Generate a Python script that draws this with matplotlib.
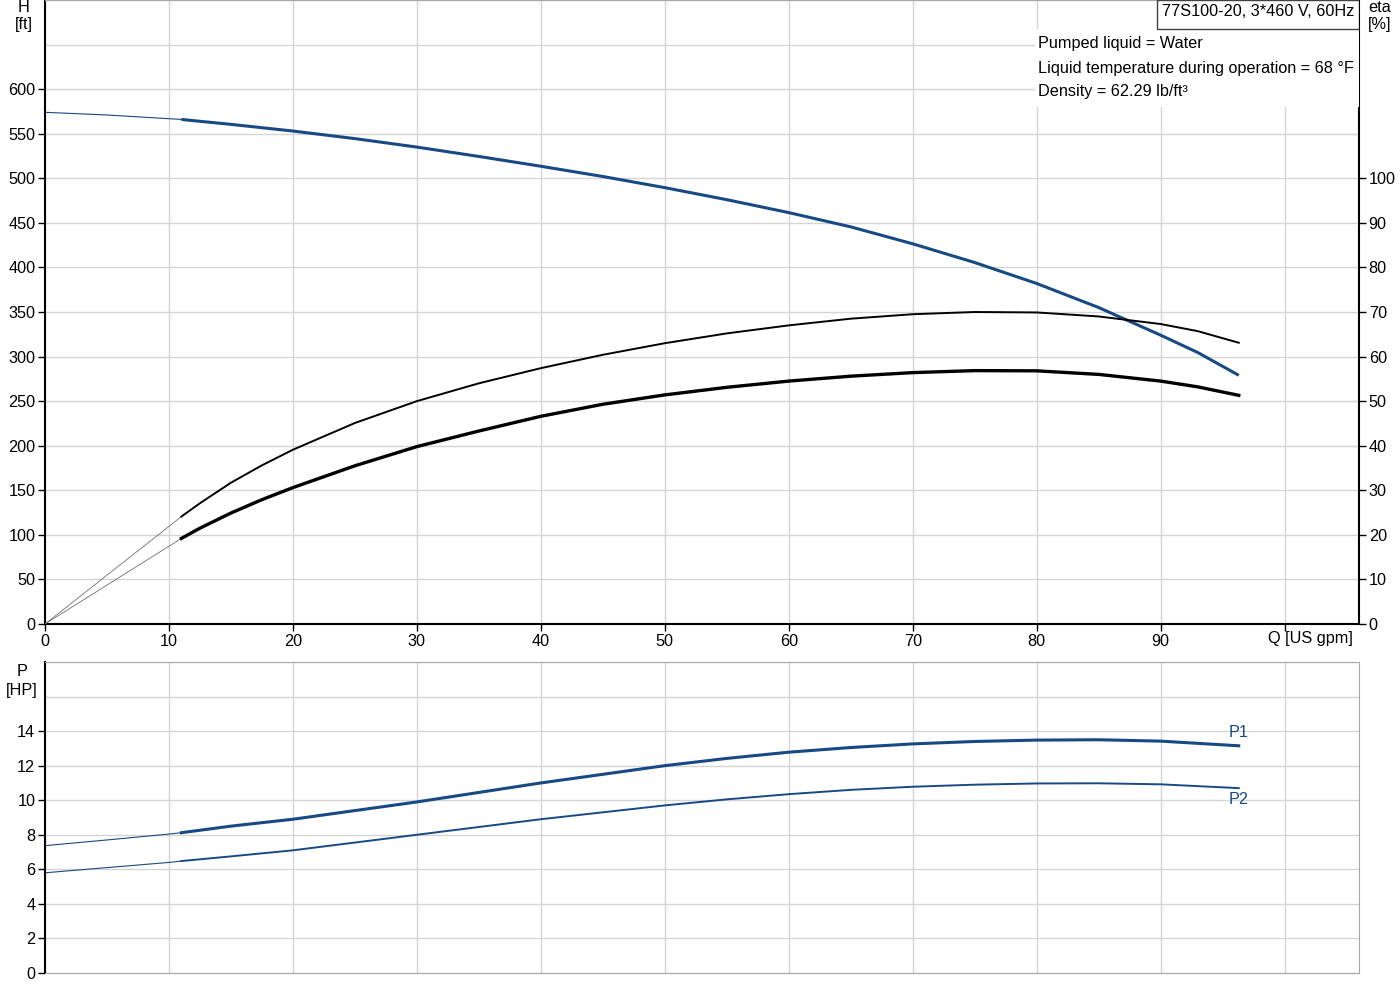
import matplotlib
matplotlib.use('Agg')
import matplotlib.pyplot as plt
from matplotlib.patches import Rectangle

plt.rcParams['font.family'] = ['Liberation Sans', 'DejaVu Sans']
plt.rcParams['font.size'] = 11.7
plt.rcParams['lines.solid_joinstyle'] = 'round'

# Q-H curve (thin part below min flow, thick part in operating range)
q_h_thin = [0, 5, 11]
h_thin = [574, 571, 566]
q_h = [11, 15, 20, 25, 30, 35, 40, 45, 50, 55, 60, 65, 70, 75, 80, 85, 90, 93, 96.3]
h = [566, 560.5, 553, 544.5, 535, 524.5, 513.5, 502, 489.5, 476, 461.5, 445.5, 426.5, 405.5,
     382, 355, 324, 304.5, 279]

# efficiency curves [%]
q_eta_thin = [0, 11]
eta_pump_thin = [0, 24.1]
eta_tot_thin = [0, 19.2]
q_eta = [11, 12.5, 15, 17.5, 20, 25, 30, 35, 40, 45, 50, 55, 60, 65, 70, 75, 80, 85, 90, 93, 96.3]
eta_pump = [24.1, 27.1, 31.7, 35.6, 39.1, 45.1, 50.0, 54.0, 57.4, 60.4, 63.0, 65.2, 67.0, 68.5,
            69.5, 70.0, 69.9, 69.0, 67.3, 65.7, 63.1]
eta_tot = [19.2, 21.5, 24.9, 27.9, 30.6, 35.5, 39.8, 43.3, 46.6, 49.3, 51.4, 53.1, 54.5, 55.6,
           56.4, 56.85, 56.8, 56.0, 54.5, 53.2, 51.3]

# power curves [HP]
q_p_thin = [0, 5, 10, 11]
p1_thin = [7.37, 7.7, 8.04, 8.12]
p2_thin = [5.8, 6.1, 6.4, 6.48]
q_p = [11, 15, 20, 25, 30, 35, 40, 45, 50, 55, 60, 65, 70, 75, 80, 85, 90, 96.3]
p1 = [8.12, 8.5, 8.9, 9.4, 9.9, 10.45, 11.0, 11.5, 12.0, 12.42, 12.78, 13.05, 13.26, 13.4,
      13.48, 13.5, 13.42, 13.15]
p2 = [6.48, 6.75, 7.1, 7.55, 8.0, 8.45, 8.9, 9.3, 9.7, 10.05, 10.35, 10.6, 10.78, 10.9,
      10.97, 10.98, 10.92, 10.7]

q_ticks = [0, 10, 20, 30, 40, 50, 60, 70, 80, 90, 100]
q_labels = ['0', '10', '20', '30', '40', '50', '60', '70', '80', '90', '']

blue = '#174a84'
grid_c = '#d4d4d4'
frame_c = '#a8a8a8'

fig = plt.figure(figsize=(14, 10), dpi=100)

# ---------- top: H and eta ----------
ax = fig.add_axes([45 / 1400, 0.376, 1314 / 1400, 0.624])
ax.set_xlim(0, 106)
ax.set_ylim(0, 700)
ax.set_yticks(range(0, 601, 50))
ax.set_yticks([650, 700], minor=True)
ax.tick_params(axis='y', which='minor', length=0)
ax.set_xticks(q_ticks)
ax.set_xticklabels(q_labels)
ax.grid(True, which='both', color=grid_c, lw=1)
ax.set_axisbelow(True)
ax.tick_params(direction='out', length=5, width=1, pad=2)
for s in ['left', 'bottom']:
    ax.spines[s].set_color('black')
    ax.spines[s].set_linewidth(1.5)
ax.spines['top'].set_color(frame_c)
ax.spines['right'].set_visible(False)
ax.annotate('Q [US gpm]', xy=(100, 0), xycoords=('data', 'axes fraction'),
            xytext=(-17, -7), textcoords='offset pixels', ha='left', va='top')

ax.plot(q_h_thin, h_thin, color=blue, lw=0.8)
ax.plot(q_h, h, color=blue, lw=2.2, solid_capstyle='butt')

ax2 = ax.twinx()
ax2.set_ylim(0, 140)
ax2.set_yticks(range(0, 101, 10))
ax2.tick_params(direction='out', length=5, width=1, pad=2)
ax2.spines['right'].set_color('black')
ax2.spines['right'].set_linewidth(1.5)
for s in ['left', 'top', 'bottom']:
    ax2.spines[s].set_visible(False)
ax2.plot(q_eta_thin, eta_pump_thin, color='#707070', lw=0.6)
ax2.plot(q_eta_thin, eta_tot_thin, color='#707070', lw=0.6)
ax2.plot(q_eta, eta_pump, color='black', lw=1.4)
ax2.plot(q_eta, eta_tot, color='black', lw=2.4)

# info texts
ax2.add_patch(Rectangle((0.7534, 0.8285), 0.2466, 0.125, transform=ax2.transAxes,
                        facecolor='white', edgecolor='none', zorder=5))
for y, t in zip([0.9295, 0.891, 0.8526],
                ['Pumped liquid = Water', 'Liquid temperature during operation = 68 °F',
                 'Density = 62.29 lb/ft³']):
    ax2.text(0.7557, y, t, transform=ax2.transAxes, ha='left', va='center', zorder=6)
ax2.add_patch(Rectangle((0.8463, 0.9535), 0.1537, 0.0465, transform=ax2.transAxes,
                        facecolor='white', edgecolor='#404040', lw=1, zorder=5))
ax2.text(0.923, 0.981, '77S100-20, 3*460 V, 60Hz', transform=ax2.transAxes,
         ha='center', va='center', zorder=6)

# ---------- bottom: power ----------
axp = fig.add_axes([45 / 1400, 0.027, 1314 / 1400, 0.311])
axp.set_xlim(0, 106)
axp.set_ylim(0, 18)
axp.set_yticks(range(0, 15, 2))
axp.set_yticks([16, 18], minor=True)
axp.tick_params(axis='y', which='minor', length=0)
axp.set_xticks(q_ticks)
axp.tick_params(axis='x', length=0, labelbottom=False)
axp.tick_params(axis='y', direction='out', length=5, width=1, pad=2)
axp.grid(True, which='both', color=grid_c, lw=1)
axp.set_axisbelow(True)
axp.spines['left'].set_color('black')
axp.spines['left'].set_linewidth(1.5)
for s in ['top', 'right', 'bottom']:
    axp.spines[s].set_color(frame_c)

axp.plot(q_p_thin, p1_thin, color=blue, lw=0.8)
axp.plot(q_p_thin, p2_thin, color=blue, lw=0.8)
axp.plot(q_p, p1, color=blue, lw=2.2)
axp.plot(q_p, p2, color=blue, lw=1.4)
axp.text(q_p[-1], p1[-1] + 0.35, 'P1', color=blue, ha='center', va='bottom')
axp.text(q_p[-1], p2[-1] - 0.2, 'P2', color=blue, ha='center', va='top')

# axis titles
fig.text(24 / 1400, 0.9995, 'H', ha='center', va='top')
fig.text(24 / 1400, 0.975, '[ft]', ha='center', va='center')
fig.text(1380 / 1400, 0.9995, 'eta', ha='center', va='top')
fig.text(1380 / 1400, 0.975, '[%]', ha='center', va='center')
fig.text(22 / 1400, 0.328, 'P', ha='center', va='center')
fig.text(22 / 1400, 0.310, '[HP]', ha='center', va='center')

fig.savefig('out.png', dpi=100)
